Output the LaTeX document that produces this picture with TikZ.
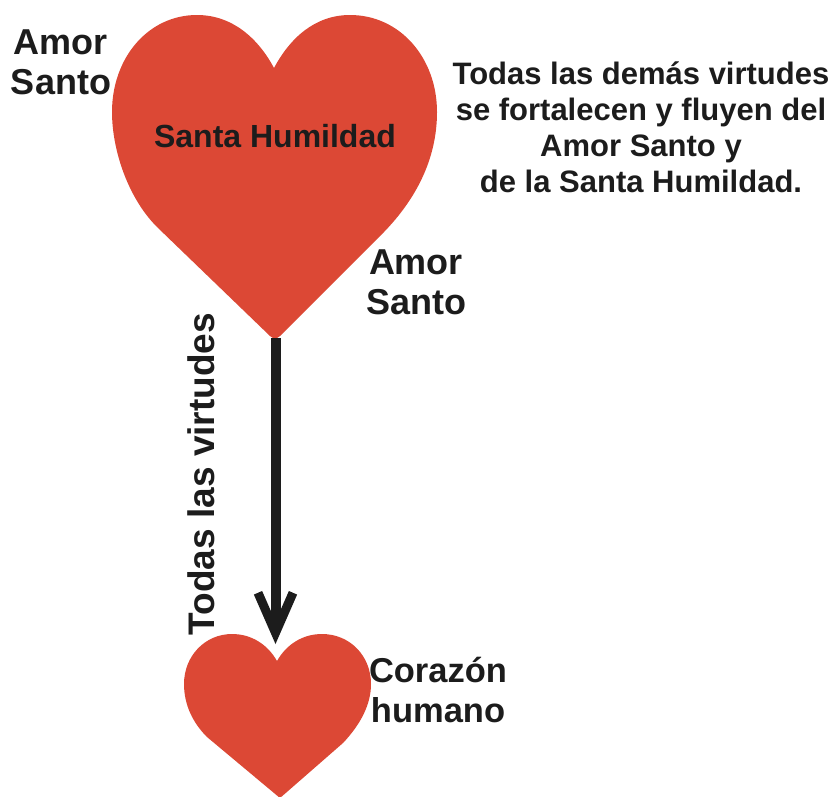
\documentclass[tikz,border=0pt]{standalone}
\usepackage{fontspec}
\setmainfont{Liberation Sans}
\usetikzlibrary{arrows.meta}
\definecolor{heartred}{HTML}{DC4835}
\definecolor{inkc}{HTML}{1C1C1C}
\tikzset{
  x=1pt,y=-1pt,
  lab/.style={font=\fontsize{36}{40}\selectfont\bfseries,text=inkc,align=center,inner sep=0pt},
  heartfill/.style={fill=heartred,draw=none},
  bigarrow/.style={draw=inkc,line width=10pt,-{Straight Barb[length=40pt,width=35pt,line width=9pt]}}
}
\begin{document}
\begin{tikzpicture}
\useasboundingbox (0,0) rectangle (834,796);
\path[heartfill] (274,68) .. controls (258,38) and (232,15) .. (197,15)
  .. controls (148,15) and (112,58) .. (112,112)
  .. controls (112,150) and (128,198) .. (157,227)
  -- (270,336) .. controls (273,339) and (277,339) .. (280,336)
  -- (384,232)
  .. controls (415,200) and (437,160) .. (437,112)
  .. controls (437,58) and (400,15) .. (350,15)
  .. controls (315,15) and (290,38) .. (274,68) -- cycle;
\path[heartfill] (277,661) .. controls (268,645) and (252,634) .. (232,634)
  .. controls (205,634) and (184,656) .. (184,684)
  .. controls (184,705) and (193,723) .. (207,737)
  -- (280,798)
  -- (343,743)
  .. controls (360,725) and (371,705) .. (371,684)
  .. controls (371,656) and (350,634) .. (322,634)
  .. controls (302,634) and (286,645) .. (277,661) -- cycle;
\coordinate (tipA) at (275.5,338);
\coordinate (tipB) at (275.5,644);
\draw[bigarrow] (tipA) -- (tipB);
\node[lab] (a1) at (61,62) {Amor\\Santo};
\node[lab] (a2) at (416,282) {Amor\\Santo};
\node[lab,font=\fontsize{32}{40}\selectfont\bfseries] (sh) at (275,136) {Santa Humildad};
\node[lab,font=\fontsize{31}{36}\selectfont\bfseries] (td) at (641,127) {Todas las demás virtudes\\se fortalecen y fluyen del\\Amor Santo y\\de la Santa Humildad.};
\node[lab,font=\fontsize{37}{40}\selectfont\bfseries,rotate=90] (tv) at (201,474) {Todas las virtudes};
\node[lab,font=\fontsize{34.5}{40}\selectfont\bfseries] (ch) at (438,690) {Corazón\\humano};
\end{tikzpicture}
\end{document}
